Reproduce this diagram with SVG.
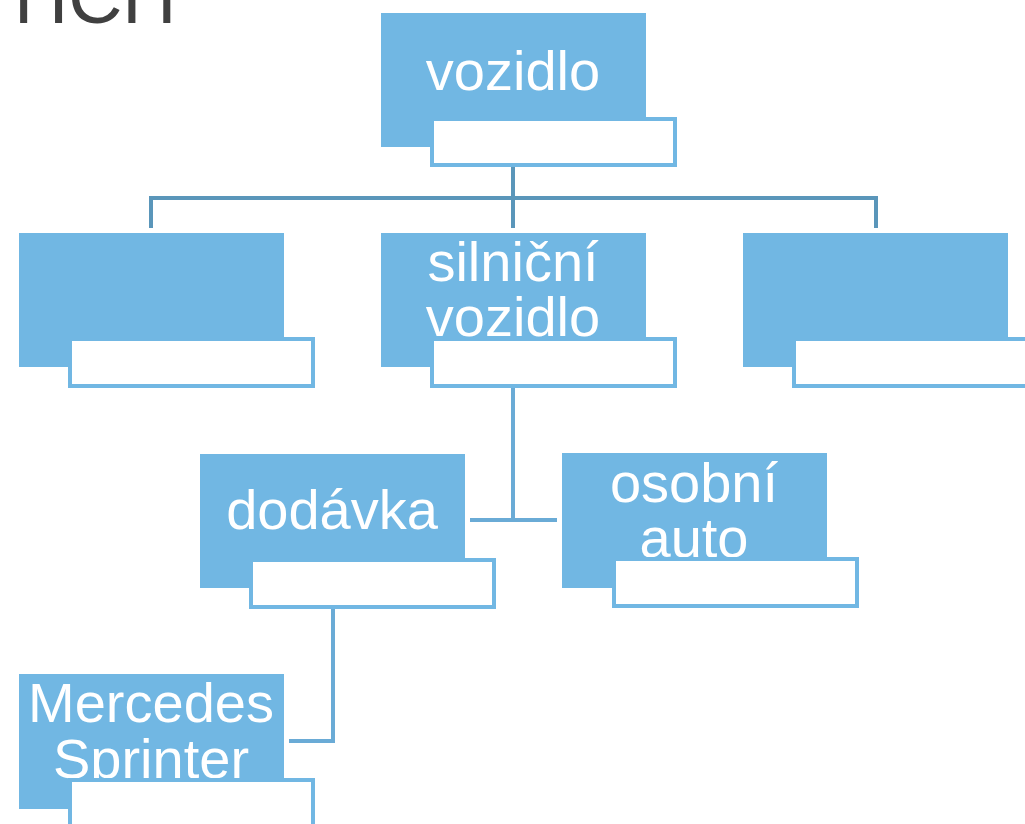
<svg xmlns="http://www.w3.org/2000/svg" width="1025" height="824" viewBox="0 0 1025 824">
  <style>
    .box { fill: #71B7E3; }
    .sub { fill: #FFFFFF; stroke: #71B7E3; stroke-width: 4; }
    .lbl { fill: #FFFFFF; font-family: "Liberation Sans", Arial, sans-serif; font-size: 56px; text-anchor: middle; }
    .title { fill: #404040; font-family: "Liberation Sans", Arial, sans-serif; font-size: 75px; }
    .link-top { fill: none; stroke: #5A96BA; stroke-width: 4; }
    .link { fill: none; stroke: #6AABD6; stroke-width: 4; }
  </style>

  <!-- heading, cut off by the top edge -->
  <text class="title" x="14" y="23">HCH</text>

  <!-- connectors -->
  <g id="connectors">
    <path class="link-top" d="M513 167 V198 M151 228 V198 H876 V228 M513 198 V228"/>
    <path class="link" d="M513 388 V520 M470 520 H557"/>
    <path class="link" d="M333 609 V741 H289"/>
  </g>

  <!-- root -->
  <g id="node-vozidlo">
    <rect class="box" x="381" y="13" width="265" height="134"/>
    <text class="lbl" x="513" y="90">vozidlo</text>
    <rect class="sub" x="432" y="119" width="243" height="46"/>
  </g>

  <!-- second level -->
  <g id="node-left">
    <rect class="box" x="19" y="233" width="265" height="134"/>
    <rect class="sub" x="70" y="339" width="243" height="47"/>
  </g>

  <g id="node-silnicni">
    <rect class="box" x="381" y="233" width="265" height="134"/>
    <text class="lbl" x="513" y="281">silniční</text>
    <text class="lbl" x="513" y="336">vozidlo</text>
    <rect class="sub" x="432" y="339" width="243" height="47"/>
  </g>

  <g id="node-right">
    <rect class="box" x="743" y="233" width="265" height="134"/>
    <rect class="sub" x="794" y="339" width="243" height="47"/>
  </g>

  <!-- third level -->
  <g id="node-dodavka">
    <rect class="box" x="200" y="454" width="265" height="134"/>
    <text class="lbl" x="332" y="529">dodávka</text>
    <rect class="sub" x="251" y="560" width="243" height="47"/>
  </g>

  <g id="node-osobni">
    <rect class="box" x="562" y="453" width="265" height="135"/>
    <text class="lbl" x="694" y="502">osobní</text>
    <text class="lbl" x="694" y="557">auto</text>
    <rect class="sub" x="614" y="559" width="243" height="47"/>
  </g>

  <!-- fourth level -->
  <g id="node-mercedes">
    <rect class="box" x="19" y="674" width="265" height="135"/>
    <text class="lbl" x="151" y="722">Mercedes</text>
    <text class="lbl" x="151" y="778">Sprinter</text>
    <rect class="sub" x="70" y="780" width="243" height="47"/>
  </g>
</svg>
